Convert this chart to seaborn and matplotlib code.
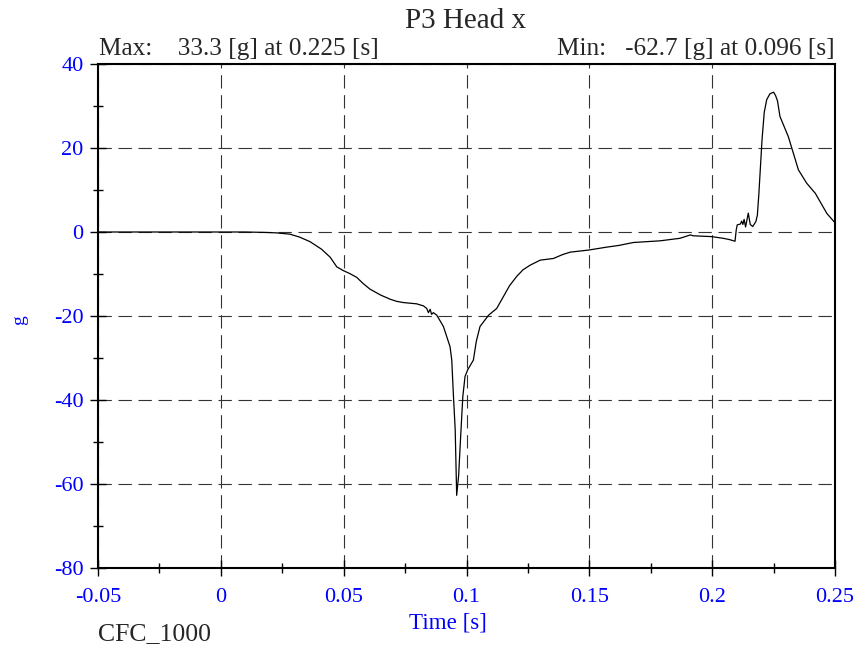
import numpy as np
import pandas as pd
import matplotlib
matplotlib.use("Agg")
import matplotlib.pyplot as plt
import seaborn as sns
from matplotlib.ticker import MultipleLocator

# ---- data ----
time_s = [-0.05, -0.03, -0.01, 0.0, 0.01, 0.018, 0.0225, 0.026, 0.028, 0.032,
          0.0363, 0.041, 0.0445, 0.0472, 0.0499, 0.0525, 0.0553, 0.058, 0.0607,
          0.065, 0.0689, 0.0715, 0.0743, 0.0797, 0.0825, 0.0838, 0.0845, 0.0852,
          0.0858, 0.0865, 0.0879, 0.0906, 0.0933, 0.094, 0.0947, 0.0954, 0.096,
          0.0968, 0.0974, 0.0985, 0.0994, 0.1005, 0.1028, 0.104, 0.1055, 0.109,
          0.1123, 0.115, 0.1175, 0.1204, 0.123, 0.1259, 0.13, 0.1354, 0.139,
          0.1422, 0.1497, 0.1571, 0.162, 0.1679, 0.1788, 0.1869, 0.1911, 0.1923,
          0.1998, 0.2045, 0.207, 0.2093, 0.2098, 0.2102, 0.2115, 0.212, 0.2125,
          0.213, 0.2136, 0.2147, 0.2155, 0.2165, 0.2178, 0.2184, 0.219, 0.2195,
          0.2203, 0.2212, 0.2222, 0.2235, 0.225, 0.2258, 0.2266, 0.2276, 0.231,
          0.2351, 0.2385, 0.242, 0.2467, 0.25]
accel_g = [0.0, 0.0, 0.0, 0.0, 0.0, -0.1, -0.2, -0.4, -0.5, -1.2,
           -2.3, -4.1, -6.0, -8.3, -9.2, -9.9, -10.8, -12.3, -13.6,
           -15.0, -16.0, -16.5, -16.8, -17.1, -17.6, -18.2, -19.2, -18.4,
           -19.6, -19.2, -19.8, -22.5, -27.3, -30.5, -39.2, -47.1, -62.7,
           -58.0, -51.1, -39.2, -34.4, -32.8, -30.5, -26.0, -22.5, -19.8,
           -18.2, -15.4, -12.8, -10.6, -9.0, -7.9, -6.7, -6.3, -5.4,
           -4.8, -4.3, -3.6, -3.2, -2.5, -2.1, -1.5, -0.7, -0.9,
           -1.1, -1.5, -1.8, -2.2, 0.5, 1.7, 1.9, 2.6, 1.8,
           3.0, 1.2, 4.5, 1.8, 1.3, 2.5, 4.0, 9.0, 14.0,
           22.0, 28.5, 31.5, 32.9, 33.3, 32.5, 31.2, 27.5, 22.7,
           14.8, 11.6, 9.2, 4.4, 2.2]

x_ticks = [-0.05, 0, 0.05, 0.1, 0.15, 0.2, 0.25]
x_tick_labels = ["-0.05", "0", "0.05", "0.1", "0.15", "0.2", "0.25"]
y_ticks = [-80, -60, -40, -20, 0, 20, 40]
y_tick_labels = ["-80", "-60", "-40", "-20", "0", "20", "40"]

title_text = "P3 Head x"
max_text = "Max:    33.3 [g] at 0.225 [s]"
min_text = "Min:   -62.7 [g] at 0.096 [s]"
x_label = "Time [s]"
y_label = "g"
filter_text = "CFC_1000"

df = pd.DataFrame({"t": time_s, "g": accel_g})

sns.set_style("ticks")
plt.rcParams["font.family"] = ["Liberation Serif", "DejaVu Serif"]

fig = plt.figure(figsize=(8.58, 6.47), dpi=100)
ax = fig.add_axes([98 / 858, 1 - 568 / 647, (835 - 98) / 858, (568 - 64) / 647])

sns.lineplot(data=df, x="t", y="g", ax=ax, color="black", linewidth=0.9,
             estimator=None, sort=False)

ax.set_xlim(-0.05, 0.25)
ax.set_ylim(-80, 40)
ax.set_xticks(x_ticks)
ax.set_xticklabels(x_tick_labels)
ax.set_yticks(y_ticks)
ax.set_yticklabels(y_tick_labels)
ax.xaxis.set_minor_locator(MultipleLocator(0.025))
ax.yaxis.set_minor_locator(MultipleLocator(10))

ax.set_xlabel("")
ax.set_ylabel("")

for s in ax.spines.values():
    s.set_visible(True)
    s.set_linewidth(1.5)
    s.set_color("black")

ax.tick_params(axis="both", which="major", direction="inout", length=12,
               width=1.0, color="black", labelcolor="#0000ff", labelsize=16)
ax.tick_params(axis="x", which="major", pad=8.5)
ax.tick_params(axis="y", which="major", pad=4.5)
ax.tick_params(axis="both", which="minor", direction="inout", length=7,
               width=1.0, color="black")

ax.grid(True, which="major", linestyle=(0, (12, 6)), linewidth=0.8, color="#333333")

fig.text(466 / 858, 1 - 21 / 647, title_text, ha="center", va="center", fontsize=21)
fig.text(99 / 858, 1 - 49 / 647, max_text, ha="left", va="center", fontsize=18.2)
fig.text(835 / 858, 1 - 49 / 647, min_text, ha="right", va="center", fontsize=18.2)
fig.text(448 / 858, 1 - 623 / 647, x_label, ha="center", va="center", fontsize=16.6,
         color="#0000ff")
fig.text(20 / 858, 1 - 320 / 647, y_label, ha="center", va="center", fontsize=14,
         color="#0000ff", rotation=90)
fig.text(98 / 858, 1 - 634 / 647, filter_text, ha="left", va="center", fontsize=18.5)

fig.savefig("out.png", dpi=100, facecolor="white")
